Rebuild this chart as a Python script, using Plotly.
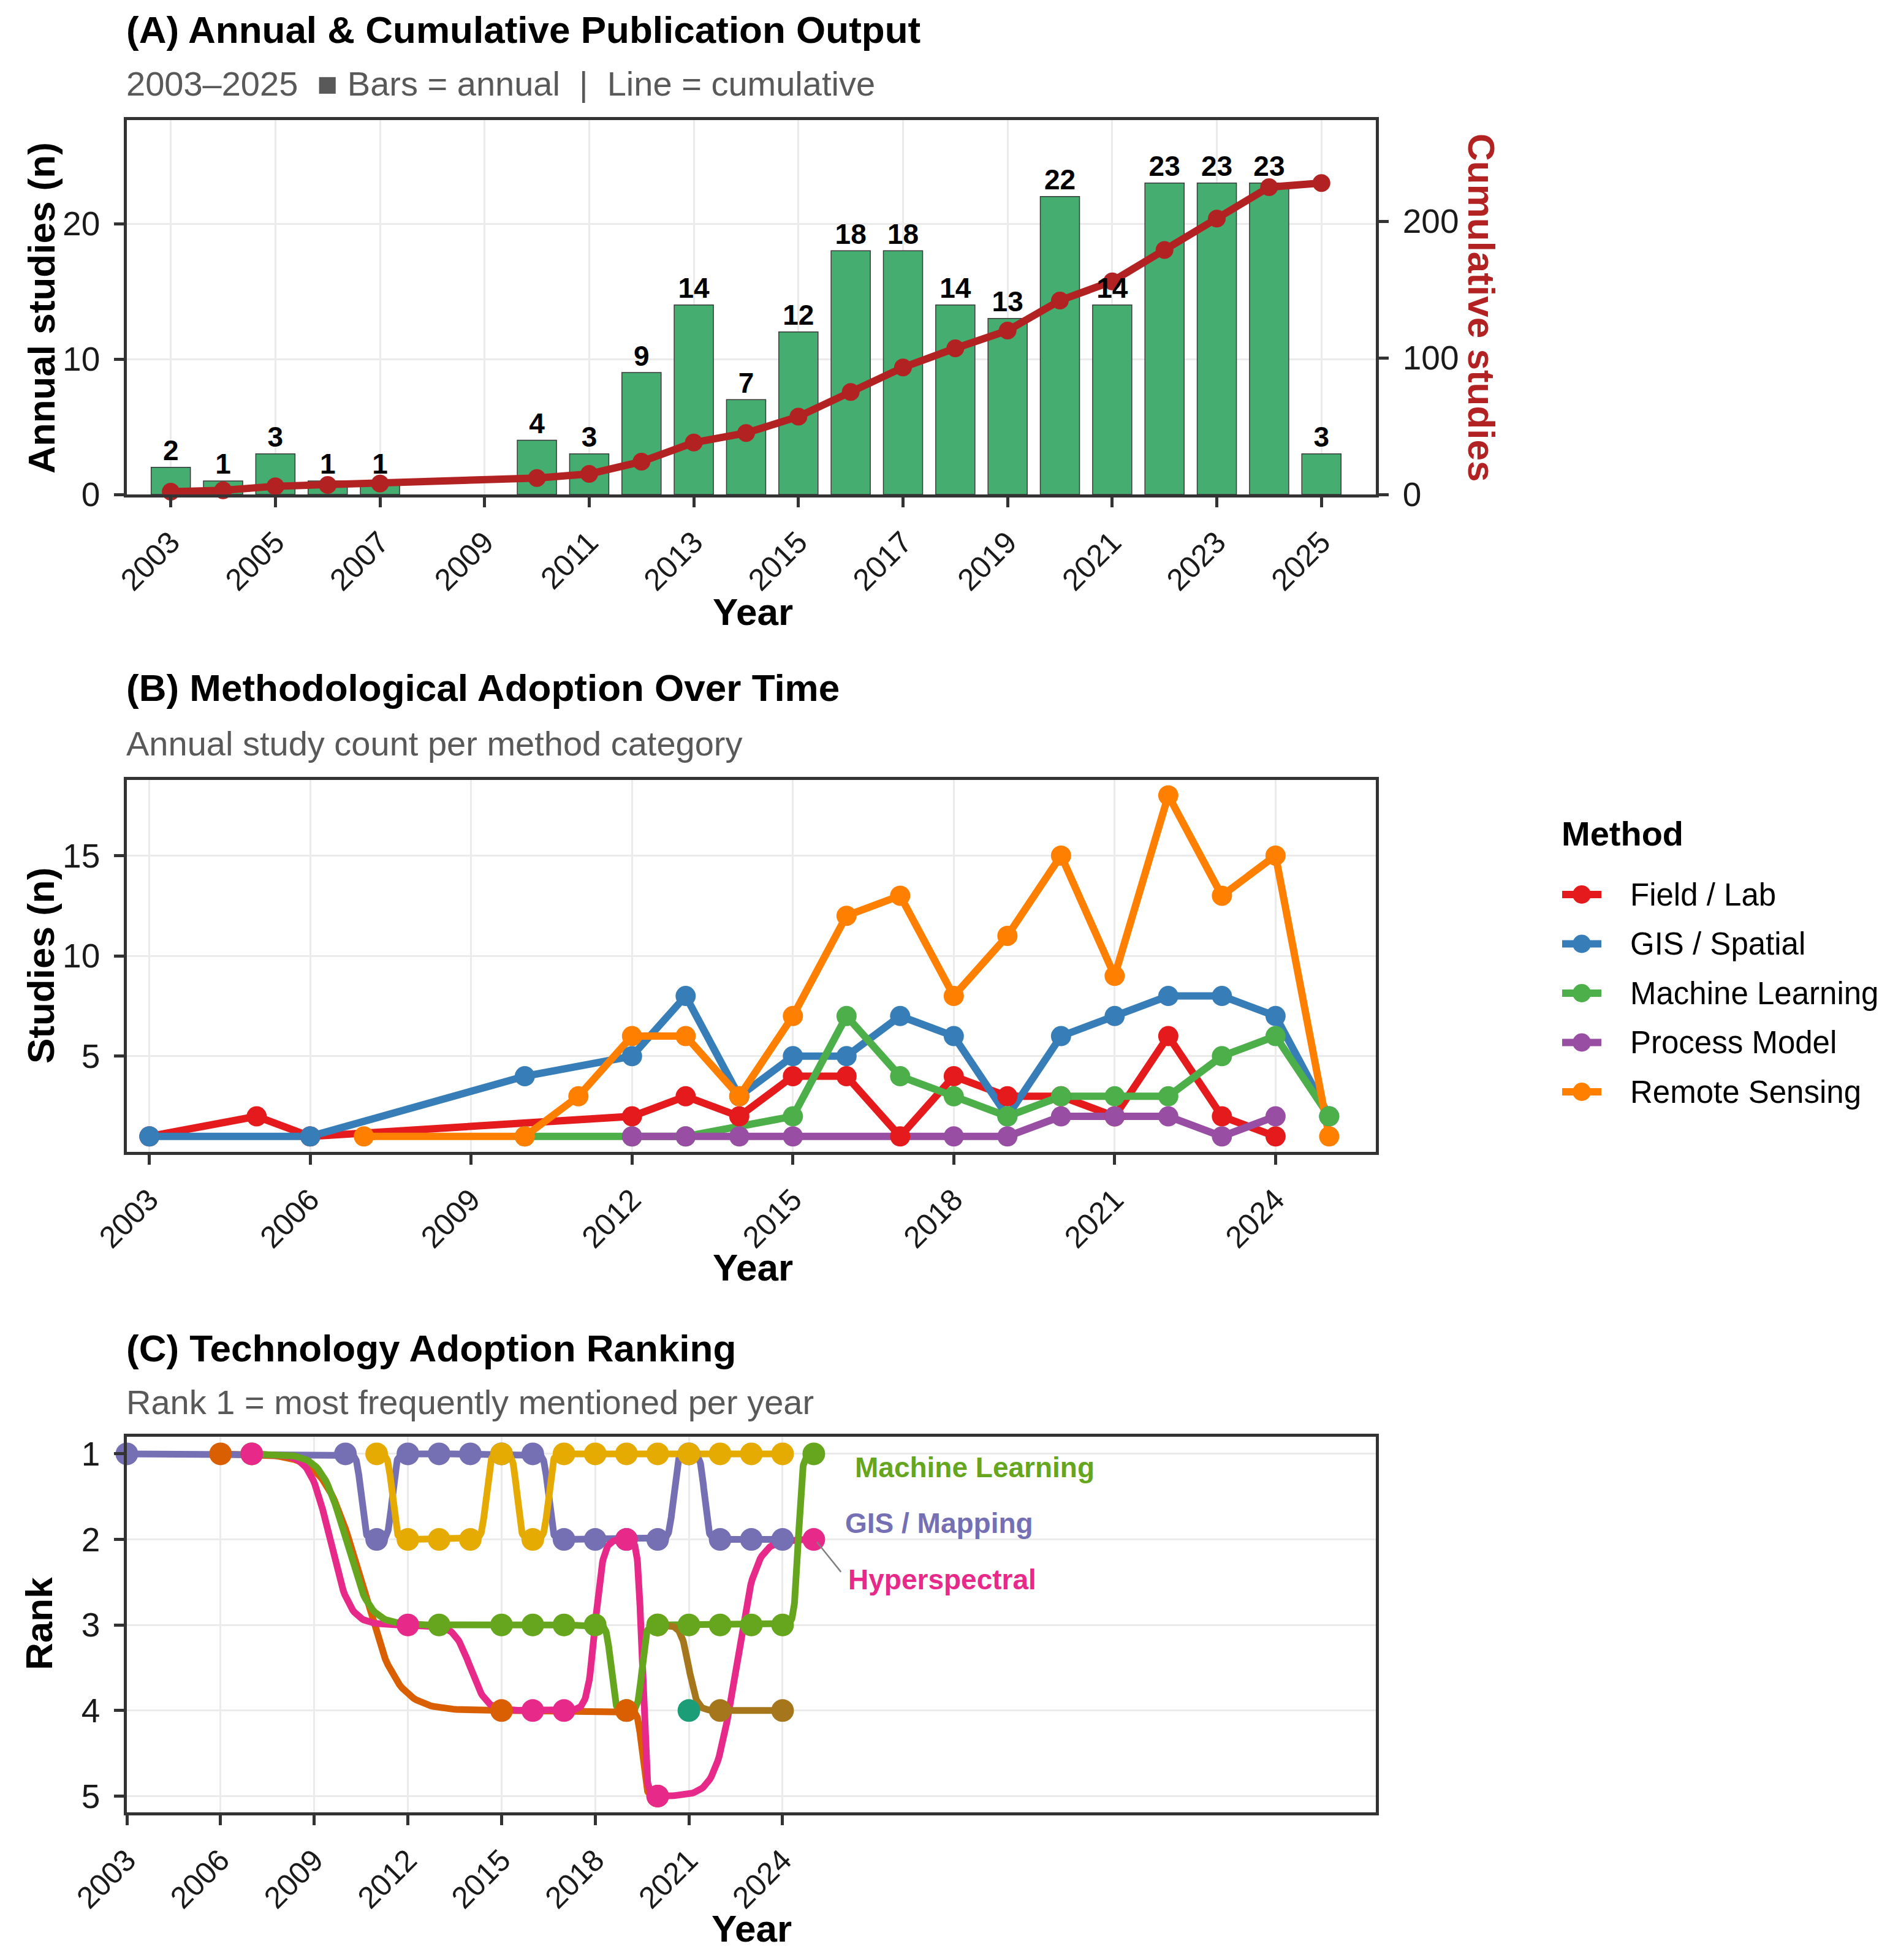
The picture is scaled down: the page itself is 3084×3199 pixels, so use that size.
import numpy as np
import plotly.graph_objects as go

W, H = 3084, 3199
FONT = "Liberation Sans, Arial, Helvetica, sans-serif"

# ---------------- DATA ----------------
# (A) annual publication output
years_a = [2003, 2004, 2005, 2006, 2007, 2010, 2011, 2012, 2013, 2014, 2015,
           2016, 2017, 2018, 2019, 2020, 2021, 2022, 2023, 2024, 2025]
annual = [2, 1, 3, 1, 1, 4, 3, 9, 14, 7, 12, 18, 18, 14, 13, 22, 14, 23, 23, 23, 3]
a_xticks = list(range(2003, 2026, 2))
a_yticks = [0, 10, 20]
a_y2ticks = [0, 100, 200]

# (B) methodological adoption
methods = ["Field / Lab", "GIS / Spatial", "Machine Learning", "Process Model", "Remote Sensing"]
method_colors = ["#E41A1C", "#377EB8", "#4DAF4A", "#984EA3", "#FF7F00"]
field_years = [2003, 2005, 2006, 2012, 2013, 2014, 2015, 2016, 2017, 2018, 2019, 2020, 2021, 2022, 2023, 2024]
field_n = [1, 2, 1, 2, 3, 2, 4, 4, 1, 4, 3, 3, 2, 6, 2, 1]
gis_years = [2003, 2006, 2010, 2012, 2013, 2014, 2015, 2016, 2017, 2018, 2019, 2020, 2021, 2022, 2023, 2024, 2025]
gis_n = [1, 1, 4, 5, 8, 3, 5, 5, 7, 6, 2, 6, 7, 8, 8, 7, 2]
ml_years = [2010, 2012, 2013, 2015, 2016, 2017, 2018, 2019, 2020, 2021, 2022, 2023, 2024, 2025]
ml_n = [1, 1, 1, 2, 7, 4, 3, 2, 3, 3, 3, 5, 6, 2]
pm_years = [2012, 2013, 2014, 2015, 2018, 2019, 2020, 2021, 2022, 2023, 2024]
pm_n = [1, 1, 1, 1, 1, 1, 2, 2, 2, 1, 2]
rs_years = [2007, 2010, 2011, 2012, 2013, 2014, 2015, 2016, 2017, 2018, 2019, 2020, 2021, 2022, 2023, 2024, 2025]
rs_n = [1, 1, 3, 6, 6, 3, 7, 12, 13, 8, 11, 15, 9, 18, 13, 15, 1]
b_xticks = list(range(2003, 2025, 3))
b_yticks = [5, 10, 15]

# (C) technology ranking (rank 1 = most mentioned)
tech_names = ["Cloud Computing", "Field Sensors", "GIS / Mapping", "Hyperspectral",
              "Machine Learning", "Satellite Imagery", "UAV / Drone"]
tech_colors = ["#1B9E77", "#D95F02", "#7570B3", "#E7298A", "#66A61E", "#E6AB02", "#A6761D"]
cloud_years = [2021]
cloud_rank = [4]
field_s_years = [2006, 2015, 2019, 2020]
field_s_rank = [1, 4, 4, 5]
gismap_years = [2003, 2010, 2011, 2012, 2013, 2014, 2015, 2016, 2017, 2018, 2019, 2020, 2021, 2022, 2023, 2024]
gismap_rank = [1, 1, 2, 1, 1, 1, 1, 1, 2, 2, 2, 2, 1, 2, 2, 2]
hyper_years = [2007, 2012, 2016, 2017, 2019, 2020, 2025]
hyper_rank = [1, 3, 4, 4, 2, 5, 2]
mlc_years = [2007, 2013, 2015, 2016, 2017, 2018, 2019, 2020, 2021, 2022, 2023, 2024, 2025]
mlc_rank = [1, 3, 3, 3, 3, 3, 4, 3, 3, 3, 3, 3, 1]
sat_years = [2011, 2012, 2013, 2014, 2015, 2016, 2017, 2018, 2019, 2020, 2021, 2022, 2023, 2024]
sat_rank = [1, 2, 2, 2, 1, 2, 1, 1, 1, 1, 1, 1, 1, 1]
uav_years = [2020, 2022, 2024]
uav_rank = [3, 4, 4]
c_xticks = list(range(2003, 2025, 3))
c_yticks = [1, 2, 3, 4, 5]
labelled_techs = ["Machine Learning", "GIS / Mapping", "Hyperspectral"]

# ---------------- STYLE / LAYOUT ----------------
BAR_FILL = "#45AD70"
CUM_RED = "#B22222"
GRID = "#EBEBEB"
AXC = "#333333"
SUBC = "#595959"
OFF = 8  # page body margin compensation (px)


def xpx(p):
    return (p - OFF) / W


def ypx(p):
    return 1 - (p - OFF) / H


XD = [xpx(207), xpx(2245)]


def sigmoid_path(xs, ys, smooth=8, n=100):
    """ggbump-style sigmoid between consecutive points."""
    px, py = [], []
    if len(xs) == 1:
        return list(xs), list(ys)
    t = np.linspace(-smooth, smooth, n)
    s = np.exp(t) / (np.exp(t) + 1)
    for i in range(len(xs) - 1):
        x0, x1, y0, y1 = xs[i], xs[i + 1], ys[i], ys[i + 1]
        px.extend(((t + smooth) / (2 * smooth) * (x1 - x0) + x0).tolist())
        py.extend((s * (y1 - y0) + y0).tolist())
    return px, py


fig = go.Figure()

# ----- Panel A -----
coef = max(annual) / float(np.cumsum(annual)[-1])
cum = np.cumsum(annual)
fig.add_trace(go.Bar(x=years_a, y=annual, width=0.75, xaxis="x", yaxis="y",
                     marker=dict(color=BAR_FILL, line=dict(color="#3A3A3A", width=1.5)),
                     showlegend=False, name="Annual"))
fig.add_trace(go.Scatter(x=years_a, y=(cum * coef).tolist(), mode="lines+markers",
                         xaxis="x", yaxis="y", cliponaxis=False,
                         line=dict(color=CUM_RED, width=12), marker=dict(size=29, color=CUM_RED),
                         customdata=cum, hovertemplate="%{x}: %{customdata}<extra>Cumulative</extra>",
                         showlegend=False, name="Cumulative"))
fig.add_trace(go.Scatter(x=years_a, y=annual, mode="text", text=[str(v) for v in annual],
                         textposition="top center", xaxis="x", yaxis="y", cliponaxis=False,
                         textfont=dict(family=FONT, size=46, color="black", weight="bold"),
                         hoverinfo="skip", showlegend=False))
# dummy trace so the secondary axis is drawn
fig.add_trace(go.Scatter(x=[years_a[0]], y=[0], xaxis="x", yaxis="y2", mode="markers",
                         marker=dict(opacity=0), hoverinfo="skip", showlegend=False))

# ----- Panel B -----
b_series = [(field_years, field_n), (gis_years, gis_n), (ml_years, ml_n),
            (pm_years, pm_n), (rs_years, rs_n)]
for (xs, ys), nm, col in zip(b_series, methods, method_colors):
    fig.add_trace(go.Scatter(x=xs, y=ys, mode="lines", xaxis="x2", yaxis="y3",
                             line=dict(color=col, width=12), hoverinfo="skip",
                             showlegend=False, name=nm))
for (xs, ys), nm, col in zip(b_series, methods, method_colors):
    fig.add_trace(go.Scatter(x=xs, y=ys, mode="markers", xaxis="x2", yaxis="y3",
                             marker=dict(color=col, size=33), cliponaxis=False,
                             showlegend=False, name=nm))

# ----- Panel C -----
c_series = [(cloud_years, cloud_rank), (field_s_years, field_s_rank), (gismap_years, gismap_rank),
            (hyper_years, hyper_rank), (mlc_years, mlc_rank), (sat_years, sat_rank),
            (uav_years, uav_rank)]
for (xs, ys), nm, col in zip(c_series, tech_names, tech_colors):
    if len(xs) > 1:
        px_, py_ = sigmoid_path(xs, ys)
        fig.add_trace(go.Scatter(x=px_, y=py_, mode="lines", xaxis="x3", yaxis="y4",
                                 line=dict(color=col, width=11), hoverinfo="skip",
                                 cliponaxis=False, showlegend=False, name=nm))
point_order = [2, 6, 4, 1, 5, 3, 0]
for i in point_order:
    xs, ys = c_series[i]
    fig.add_trace(go.Scatter(x=xs, y=ys, mode="markers", xaxis="x3", yaxis="y4",
                             marker=dict(color=tech_colors[i], size=37), cliponaxis=False,
                             showlegend=False, name=tech_names[i]))

label_offsets = {"Machine Learning": (1.28, 0.16), "GIS / Mapping": (1.97, -0.19),
                 "Hyperspectral": (1.07, 0.47)}
annotations = []
shapes = []
for nm in labelled_techs:
    i = tech_names.index(nm)
    xs, ys = c_series[i]
    dx, dy = label_offsets[nm]
    annotations.append(dict(x=xs[-1] + dx, y=ys[-1] + dy, xref="x3", yref="y4",
                            text="<b>%s</b>" % nm, showarrow=False, xanchor="left",
                            yanchor="middle",
                            font=dict(family=FONT, size=46, color=tech_colors[i])))
# ggrepel-style leader segment for Hyperspectral
hi = tech_names.index("Hyperspectral")
hx, hy = c_series[hi][0][-1], c_series[hi][1][-1]
shapes.append(dict(type="line", xref="x3", yref="y4", x0=hx + 0.10, y0=hy + 0.03,
                   x1=hx + 0.87, y1=hy + 0.38, line=dict(color="#808080", width=2.5)))

# ----- custom legend for panel B -----
leg_y0, leg_dy = 1460, 80.5
for k, (nm, col) in enumerate(zip(methods, method_colors)):
    yc = leg_y0 + k * leg_dy
    fig.add_trace(go.Scatter(x=[2549, 2613], y=[yc, yc], mode="lines", xaxis="x4", yaxis="y5",
                             line=dict(color=col, width=12), hoverinfo="skip", showlegend=False))
    fig.add_trace(go.Scatter(x=[2581], y=[yc], mode="markers", xaxis="x4", yaxis="y5",
                             marker=dict(color=col, size=30), hoverinfo="skip", showlegend=False))
    annotations.append(dict(x=xpx(2658), y=ypx(yc), xref="paper", yref="paper", text=nm,
                            showarrow=False, xanchor="left", yanchor="middle",
                            font=dict(family=FONT, size=51, color="black")))
annotations.append(dict(x=xpx(2546), y=ypx(1361), xref="paper", yref="paper", text="<b>Method</b>",
                        showarrow=False, xanchor="left", yanchor="middle",
                        font=dict(family=FONT, size=56, color="black")))

# ----- titles, subtitles, axis titles -----
def txt(xp, yp, text, size, color="black", angle=0, xanchor="left"):
    annotations.append(dict(x=xpx(xp), y=ypx(yp), xref="paper", yref="paper", text=text,
                            showarrow=False, xanchor=xanchor, yanchor="middle", textangle=angle,
                            font=dict(family=FONT, size=size, color=color)))

NB = "\u00a0"
txt(204, 48, "<b>(A) Annual &amp; Cumulative Publication Output</b>", 62)
txt(204, 137, "2003\u20132025" + NB * 2 + "\u25A0" + NB + "Bars = annual" + NB * 2 + "|" + NB * 2
    + "Line = cumulative", 56, SUBC)
txt(204, 1122, "<b>(B) Methodological Adoption Over Time</b>", 62)
txt(204, 1214, "Annual study count per method category", 56, SUBC)
txt(204, 2200, "<b>(C) Technology Adoption Ranking</b>", 62)
txt(204, 2288, "Rank 1 = most frequently mentioned per year", 56, SUBC)

txt(67, 503, "<b>Annual studies (n)</b>", 62, angle=-90, xanchor="center")
txt(2417, 502, "<b>Cumulative studies</b>", 62, CUM_RED, angle=90, xanchor="center")
txt(1228, 998, "<b>Year</b>", 62, xanchor="center")
txt(67, 1576, "<b>Studies (n)</b>", 62, angle=-90, xanchor="center")
txt(1228, 2068, "<b>Year</b>", 62, xanchor="center")
txt(63, 2650, "<b>Rank</b>", 62, angle=-90, xanchor="center")
txt(1226, 3147, "<b>Year</b>", 62, xanchor="center")

# ----- axes -----
def ax(**kw):
    base = dict(showline=True, linecolor=AXC, linewidth=4.5, mirror=True, ticks="outside",
                ticklen=16, tickwidth=4.5, tickcolor=AXC, showgrid=True, gridcolor=GRID,
                gridwidth=3, zeroline=False, ticklabelstandoff=12, automargin=False,
                tickfont=dict(family=FONT, size=55, color="#1A1A1A"))
    base.update(kw)
    return base

xtickfont = dict(family=FONT, size=50, color="#1A1A1A")
a_ymax = 27.65
layout_axes = dict(
    xaxis=ax(domain=XD, anchor="y", range=[2002.16, 2026.04], tickvals=a_xticks,
             tickangle=-45, tickfont=xtickfont, ticklabelstandoff=8),
    yaxis=ax(domain=[ypx(807), ypx(196)], anchor="x", range=[0, a_ymax], tickvals=a_yticks),
    yaxis2=ax(overlaying="y", side="right", anchor="x", range=[0, a_ymax / coef],
              tickvals=a_y2ticks, showgrid=False, mirror=False),
    xaxis2=ax(domain=XD, anchor="y3", range=[2002.58, 2025.87], tickvals=b_xticks,
              tickangle=-45, tickfont=xtickfont, ticklabelstandoff=8),
    yaxis3=ax(domain=[ypx(1880), ypx(1273)], anchor="x2", range=[0.23, 18.77], tickvals=b_yticks),
    xaxis3=ax(domain=XD, anchor="y4", range=[2003, 2043], tickvals=c_xticks,
              tickangle=-45, tickfont=xtickfont, ticklabelstandoff=8),
    yaxis4=ax(domain=[ypx(2958), ypx(2345)], anchor="x3", range=[5.19, 0.8], tickvals=c_yticks),
    # hidden pixel-space axes that carry the panel (B) legend keys
    xaxis4=dict(domain=[xpx(2480 + OFF), 1.0], range=[2480 + OFF, W + OFF], visible=False,
                anchor="y5", automargin=False),
    yaxis5=dict(domain=[0, 1], range=[H + OFF, OFF], visible=False, anchor="x4",
                automargin=False),
)

fig.update_layout(
    width=W, height=H, autosize=False,
    margin=dict(l=0, r=0, t=0, b=0, pad=0, autoexpand=False),
    paper_bgcolor="white", plot_bgcolor="white",
    font=dict(family=FONT, color="black"),
    showlegend=False,
    annotations=annotations, shapes=shapes,
    bargap=0.2,
    **layout_axes,
)

fig.write_html("out.html")
